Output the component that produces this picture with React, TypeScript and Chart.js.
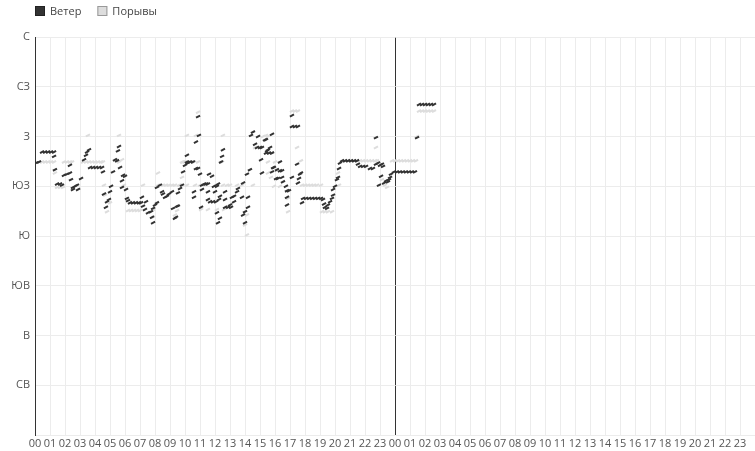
import React, { useEffect, useRef } from 'react';
import { Chart, registerables } from 'chart.js';

Chart.register(...registerables);

// Direction tick labels for 0, 45, ... 360 degrees
const dirLabels = ['', 'СВ', 'В', 'ЮВ', 'Ю', 'ЮЗ', 'З', 'СЗ', 'С'];
// Hour tick labels for two days (0..47)
const hourLabels = [
  '00','01','02','03','04','05','06','07','08','09','10','11','12','13','14','15','16','17','18','19','20','21','22','23',
  '00','01','02','03','04','05','06','07','08','09','10','11','12','13','14','15','16','17','18','19','20','21','22','23',
];
const seriesNames = ['Ветер', 'Порывы'];

// Wind direction (hours since start, degrees)
const windHours = [
  0.07, 0.27, 0.47, 0.67, 0.87,
  1.07, 1.27, 1.27, 1.33, 1.47, 1.67, 1.8, 1.93,
  2.13, 2.33, 2.33, 2.4, 2.53, 2.53, 2.67, 2.8, 2.87,
  3.07, 3.27, 3.4, 3.47, 3.6, 3.67, 3.87,
  4.07, 4.27, 4.47, 4.53, 4.6, 4.73, 4.8, 4.93,
  5.0, 5.07, 5.2, 5.33, 5.47, 5.53, 5.6, 5.67, 5.8, 5.8, 5.87,
  6.0, 6.07, 6.13, 6.2, 6.33, 6.53, 6.73, 6.93,
  7.07, 7.13, 7.2, 7.33, 7.4, 7.53, 7.73, 7.8, 7.87, 7.87,
  8.0, 8.13, 8.13, 8.33, 8.47, 8.53, 8.67, 8.8, 8.93,
  9.13, 9.2, 9.33, 9.4, 9.47, 9.53, 9.53, 9.67, 9.8, 9.87,
  10.0, 10.13, 10.13, 10.2, 10.33, 10.53, 10.6, 10.6, 10.73, 10.73, 10.87, 10.87, 10.93,
  11.0, 11.07, 11.13, 11.13, 11.27, 11.4, 11.53, 11.53, 11.53, 11.6, 11.67, 11.8, 11.87, 11.93,
  12.0, 12.07, 12.13, 12.13, 12.2, 12.2, 12.27, 12.33, 12.33, 12.4, 12.47, 12.53, 12.67, 12.67, 12.67, 12.87,
  13.0, 13.07, 13.13, 13.27, 13.27, 13.47, 13.53, 13.8, 13.87, 13.87,
  14.0, 14.0, 14.13, 14.2, 14.2, 14.33, 14.4, 14.53, 14.67, 14.8, 14.87,
  15.0, 15.07, 15.13, 15.13, 15.33, 15.4, 15.4, 15.47, 15.53, 15.6, 15.67, 15.8, 15.8, 15.8, 15.87, 15.93,
  16.07, 16.13, 16.2, 16.33, 16.33, 16.47, 16.47, 16.53, 16.73, 16.8, 16.8, 16.8, 16.93,
  17.13, 17.13, 17.13, 17.33, 17.47, 17.53, 17.53, 17.6, 17.67, 17.73, 17.8, 17.87,
  18.07, 18.27, 18.47, 18.67, 18.87,
  19.07, 19.2, 19.27, 19.33, 19.47, 19.53, 19.67, 19.8, 19.87, 19.87,
  20.0, 20.13, 20.2, 20.27, 20.33, 20.47, 20.67, 20.87,
  21.07, 21.27, 21.47, 21.53, 21.67, 21.87,
  22.07, 22.33, 22.53, 22.73, 22.73, 22.87, 22.93,
  23.0, 23.07, 23.13, 23.2, 23.27, 23.4, 23.53, 23.6, 23.67, 23.73, 23.93,
  24.13, 24.33, 24.53, 24.73, 24.93,
  25.13, 25.33, 25.47, 25.6, 25.8,
  26.0, 26.2, 26.4, 26.6,
];
const windDirs = [
  246, 247, 256, 256, 256,
  256, 256, 252, 240, 227, 227, 226, 235,
  236, 237, 244, 231, 222, 224, 225, 226, 222,
  232, 249, 253, 256, 258, 242, 242,
  242, 242, 242, 238, 218, 206, 211, 213,
  220, 225, 238, 249, 248, 257, 261, 242, 230, 224, 235,
  234, 222, 214, 212, 210, 210, 210, 210,
  210, 215, 207, 204, 211, 201, 202, 197, 205, 192,
  208, 210, 224, 226, 220, 218, 215, 216, 218,
  220, 205, 196, 197, 207, 219, 207, 223, 226, 238,
  244, 253, 247, 246, 247, 247, 220, 215, 265, 241, 288, 241, 271,
  236, 206, 226, 222, 227, 227, 227, 220, 213, 236, 211, 234, 211, 225,
  220, 211, 225, 201, 227, 192, 213, 216, 196, 247, 252, 258, 220, 213, 206, 206,
  208, 206, 215, 211, 216, 220, 223, 215, 228, 199,
  202, 192, 236, 206, 215, 240, 271, 274, 263, 260, 270,
  260, 249, 260, 237, 267, 267, 255, 257, 258, 255, 260, 272, 255, 238, 242, 242,
  232, 240, 232, 247, 239, 239, 233, 229, 225, 221, 215, 208, 221,
  289, 279, 233, 279, 245, 279, 228, 232, 236, 237, 210, 214,
  214, 214, 214, 214, 214,
  214, 213, 209, 206, 205, 208, 211, 214, 217, 222,
  225, 231, 233, 241, 246, 248, 248, 248,
  248, 248, 248, 245, 243, 243,
  243, 241, 241, 245, 269, 246, 226,
  244, 234, 245, 243, 228, 230, 229, 231, 233, 236, 238,
  238, 238, 238, 238, 238,
  238, 238, 269, 299, 299,
  299, 299, 299, 299,
];

// Gust direction (hours since start, degrees)
const gustHours = [
  0.47, 0.67, 0.87, 1.07, 1.27, 1.33, 1.47, 1.67, 1.87, 1.93,
  2.13, 2.33, 2.47, 3.2, 3.4, 3.53, 3.6, 3.8,
  4.0, 4.2, 4.4, 4.53, 4.6, 4.67, 4.8,
  5.0, 5.4, 5.6, 5.6, 5.8, 5.93,
  6.2, 6.4, 6.6, 6.8, 7.0, 7.2, 7.87, 7.87,
  8.2, 8.2, 8.53, 8.73, 8.93, 9.13, 9.33, 9.33, 9.47, 9.6, 9.67, 9.8, 9.8, 9.87,
  10.0, 10.13, 10.13, 10.2, 10.4, 10.6, 10.67, 10.73, 10.87, 10.87,
  11.0, 11.07, 11.53, 12.13, 12.47, 12.53, 12.53, 12.6, 12.8,
  13.0, 13.47, 13.8, 14.0, 14.13, 14.13, 14.53, 14.67,
  15.2, 15.4, 15.53, 15.53, 15.53, 15.53, 15.73, 15.8, 15.93,
  16.0, 16.33, 16.87, 16.87, 17.13, 17.33, 17.47, 17.53, 17.73, 17.8,
  18.0, 18.2, 18.4, 18.6, 18.8, 19.07, 19.13, 19.33, 19.53, 19.8,
  20.2, 20.27, 20.47, 20.67, 20.87, 21.07, 21.27, 21.47, 21.67, 21.87,
  22.07, 22.27, 22.47, 22.67, 22.73, 22.8, 23.13, 23.33, 23.47, 23.8,
  24.0, 24.2, 24.4, 24.6, 24.8, 25.0, 25.2, 25.4, 25.47, 25.6, 25.8,
  26.0, 26.2, 26.4, 26.6,
];
const gustDirs = [
  247, 247, 247, 247, 247, 237, 224, 224, 224, 247,
  247, 247, 247, 247, 247, 271, 247, 247,
  247, 247, 247, 247, 226, 217, 202,
  210, 249, 271, 247, 249, 226,
  203, 203, 203, 203, 203, 226, 203, 197,
  237, 226, 226, 226, 226, 226, 226, 199, 203, 226, 226, 233, 247, 247,
  247, 271, 226, 247, 247, 247, 226, 271, 292, 247,
  226, 204, 204, 204, 247, 271, 226, 204, 226,
  226, 226, 226, 190, 199, 181, 226, 260,
  270, 271, 270, 258, 247, 237, 233, 255, 225,
  247, 225, 214, 202, 293, 293, 260, 293, 248, 226,
  226, 226, 226, 226, 226, 226, 202, 202, 202, 202,
  237, 226, 248, 248, 248, 248, 248, 248, 248, 248,
  248, 248, 248, 248, 260, 248, 231, 226, 224, 248,
  248, 248, 248, 248, 248, 248, 248, 248, 270, 293, 293,
  293, 293, 293, 293,
];

const DARK = '#333333';
const LIGHT = '#dddddd';
const FONT = '"Open Sans", "Noto Sans", sans-serif';

const legendPlugin = {
  id: 'customLegend',
  afterDraw(chart: any) {
    const ctx = chart.ctx;
    ctx.save();
    ctx.font = `11px ${FONT}`;
    ctx.textBaseline = 'middle';
    ctx.textAlign = 'left';
    const colors = [
      { fill: DARK, stroke: '#222222' },
      { fill: LIGHT, stroke: '#999999' },
    ];
    let x = 35;
    const y = 6;
    seriesNames.forEach((name, i) => {
      ctx.fillStyle = colors[i].fill;
      ctx.fillRect(x, y, 10, 10);
      ctx.strokeStyle = colors[i].stroke;
      ctx.lineWidth = 1;
      ctx.strokeRect(x + 0.5, y + 0.5, 9, 9);
      ctx.fillStyle = '#444444';
      ctx.fillText(name, x + 15, y + 5.5);
      x += 15 + ctx.measureText(name).width + 16;
    });
    ctx.restore();
  },
};

export default function App() {
  const ref = useRef<HTMLCanvasElement | null>(null);

  useEffect(() => {
    document.body.style.margin = '0';
    const canvas = ref.current;
    if (!canvas) return;
    const wind = windHours.map((h, i) => ({ x: h, y: windDirs[i] }));
    const gust = gustHours.map((h, i) => ({ x: h, y: gustDirs[i] }));
    const pointOpts = {
      showLine: false,
      pointStyle: 'line',
      pointRadius: 2.3,
      pointRotation: -28,
      pointBorderWidth: 2,
      pointHoverRadius: 2.3,
    };
    const chart = new Chart(canvas, {
      type: 'scatter',
      data: {
        datasets: [
          { label: seriesNames[0], data: wind, borderColor: DARK, backgroundColor: DARK, ...pointOpts } as any,
          { label: seriesNames[1], data: gust, borderColor: LIGHT, backgroundColor: LIGHT, ...pointOpts } as any,
        ],
      },
      options: {
        animation: false,
        responsive: false,
        maintainAspectRatio: false,
        layout: { autoPadding: false, padding: { top: 37, left: 0, right: 0, bottom: 0 } },
        plugins: { legend: { display: false }, tooltip: { enabled: false } },
        scales: {
          x: {
            type: 'linear',
            min: 0,
            max: 48,
            afterFit: (s: any) => { s.height = 16; s.paddingRight = 0; s.paddingLeft = 0; },
            grid: {
              drawTicks: false,
              color: (c: any) => (c.tick && c.tick.value === 24 ? '#333333' : '#ececec'),
              lineWidth: 1,
            },
            border: { display: false },
            ticks: {
              stepSize: 1,
              autoSkip: false,
              maxRotation: 0,
              minRotation: 0,
              padding: 2,
              color: '#555555',
              font: { family: FONT, size: 11 },
              callback: (v: any) => (Number(v) < 48 ? hourLabels[Number(v)] : ''),
            },
          },
          y: {
            type: 'linear',
            min: 0,
            max: 360,
            afterFit: (s: any) => { s.width = 35; },
            grid: { drawTicks: false, color: '#ececec', lineWidth: 1 },
            border: { display: true, color: '#333333', width: 1 },
            ticks: {
              stepSize: 45,
              padding: 5,
              color: '#555555',
              font: { family: FONT, size: 11 },
              callback: (v: any) => dirLabels[Math.round(Number(v) / 45)] ?? '',
            },
          },
        },
      },
      plugins: [legendPlugin],
    } as any);
    return () => chart.destroy();
  }, []);

  return <canvas ref={ref} width={755} height={451} style={{ display: 'block' }} />;
}
